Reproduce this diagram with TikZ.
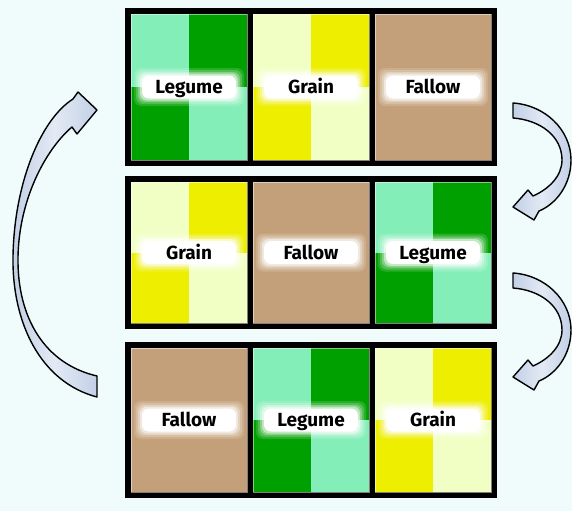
\documentclass[tikz,border=0pt]{standalone}
\usepackage{fontspec}
\setmainfont{Fira Sans}
\definecolor{bg}{HTML}{F0FCFC}
\definecolor{lgreen}{HTML}{84EEB8}
\definecolor{dgreen}{HTML}{00A000}
\definecolor{lyellow}{HTML}{F2FFC4}
\definecolor{dyellow}{HTML}{EEEE00}
\definecolor{tanbrown}{HTML}{C4A07A}
\definecolor{arrowfill}{HTML}{C2D0E6}
\definecolor{arrowlight}{HTML}{E2EAF4}
\definecolor{arrowline}{HTML}{000000}
\tikzset{
  panel/.style={rectangle,minimum width=116pt,inner sep=0pt,outer sep=0pt},
  rowframe/.style={fill=black},
  glow/.style={rectangle,rounded corners=7pt,fill=white,inner sep=0pt},
  labeltext/.style={font=\bfseries\fontsize{19}{22}\selectfont,text=black,inner sep=0pt,text height=15pt,text depth=2pt},
  curvearrow/.style={left color=arrowfill,right color=arrowfill,middle color=arrowlight,draw=arrowline,line width=1.4pt,line join=round},
  paneledge/.style={draw=white,draw opacity=0.5,line width=0.8pt}
}
\newcommand{\glowlabel}[2]{%
  \node[glow,opacity=0.15,minimum width=110pt,minimum height=38pt] at (#1.center) {};
  \node[glow,opacity=0.2,minimum width=106pt,minimum height=34pt] at (#1.center) {};
  \node[glow,opacity=0.3,minimum width=102pt,minimum height=30pt] at (#1.center) {};
  \node[glow,opacity=0.5,minimum width=98pt,minimum height=27pt] at (#1.center) {};
  \node[glow,minimum width=94pt,minimum height=23pt] at (#1.center) {};
  \node[labeltext] (#1-label) at (#1.center) {#2};
}
\newcommand{\legumepanel}[1]{%
  \fill[lgreen] (#1.north west) rectangle (#1.center);
  \fill[dgreen] (#1.north east) rectangle (#1.center);
  \fill[dgreen] (#1.south west) rectangle (#1.center);
  \fill[lgreen] (#1.south east) rectangle (#1.center);
  \path[paneledge] (#1.north west) rectangle (#1.south east);
  \glowlabel{#1}{Legume}}
\newcommand{\grainpanel}[1]{%
  \fill[lyellow] (#1.north west) rectangle (#1.center);
  \fill[dyellow] (#1.north east) rectangle (#1.center);
  \fill[dyellow] (#1.south west) rectangle (#1.center);
  \fill[lyellow] (#1.south east) rectangle (#1.center);
  \path[paneledge] (#1.north west) rectangle (#1.south east);
  \glowlabel{#1}{Grain}}
\newcommand{\fallowpanel}[1]{%
  \fill[tanbrown] (#1.north west) rectangle (#1.south east);
  \path[paneledge] (#1.north west) rectangle (#1.south east);
  \glowlabel{#1}{Fallow}}
\begin{document}
\begin{tikzpicture}[x=1pt,y=-1pt]
\fill[bg] (0,0) rectangle (572,511);
\useasboundingbox (0,0) rectangle (572,511);
% row frames
\fill[rowframe] (125,8) rectangle (497,166);
\fill[rowframe] (125,176) rectangle (497,329);
\fill[rowframe] (125,342) rectangle (497,498);
% panel nodes
\node[panel,minimum height=146pt] (p11) at (189,87) {};
\node[panel,minimum height=146pt] (p12) at (311,87) {};
\node[panel,minimum height=146pt] (p13) at (433,87) {};
\node[panel,minimum height=141pt] (p21) at (189,252.5) {};
\node[panel,minimum height=141pt] (p22) at (311,252.5) {};
\node[panel,minimum height=141pt] (p23) at (433,252.5) {};
\node[panel,minimum height=144pt] (p31) at (189,420) {};
\node[panel,minimum height=144pt] (p32) at (311,420) {};
\node[panel,minimum height=144pt] (p33) at (433,420) {};
\legumepanel{p11}\grainpanel{p12}\fallowpanel{p13}
\grainpanel{p21}\fallowpanel{p22}\legumepanel{p23}
\fallowpanel{p31}\legumepanel{p32}\grainpanel{p33}
% left big curved arrow (bottom to top)
\path[curvearrow] (97,397) .. controls (40,382) and (12,322) .. (13,257)
   .. controls (14,185) and (40,120) .. (73,99)
   -- (78,92) -- (97,110) -- (77,134) -- (72,127)
   .. controls (45,150) and (19,200) .. (18,257)
   .. controls (17,318) and (45,364) .. (97,376) -- cycle;
% right small curved arrows
\foreach \dy in {0,170}{
\path[curvearrow,yshift=-\dy pt] (513,103) .. controls (545,105) and (571,130) .. (571,160)
   .. controls (571,185) and (556,204) .. (539,211)
   -- (534,220) -- (513,207) -- (528,190) -- (533,196)
   .. controls (549,189) and (562,176) .. (562,160)
   .. controls (562,136) and (540,120) .. (513,118) -- cycle;
}
\end{tikzpicture}
\end{document}
